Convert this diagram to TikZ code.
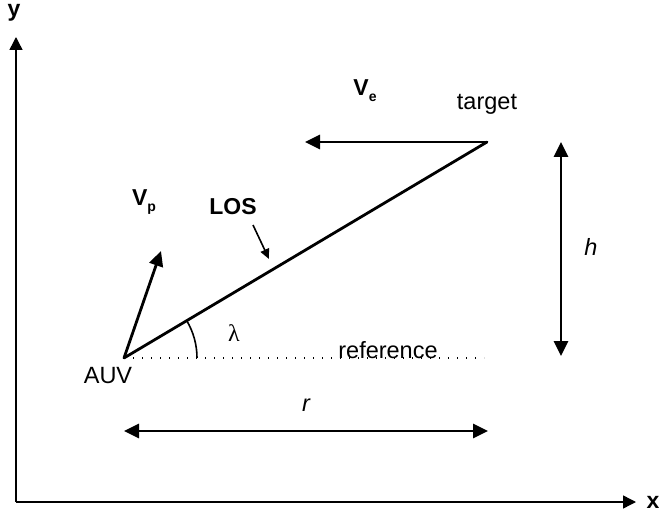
\documentclass[tikz,border=0pt]{standalone}
\usepackage{fontspec}
\setmainfont{Liberation Sans}
\newfontfamily\serifgreek{Liberation Serif}
\usetikzlibrary{arrows.meta}
\newcommand\mysub[1]{\raisebox{-6pt}{\fontsize{14}{16}\selectfont\bfseries #1}}
\begin{document}
\begin{tikzpicture}[x=1pt,y=-1pt,
  lbl/.style={inner sep=0pt,font=\fontsize{23.5}{27}\selectfont},
  ilbl/.style={inner sep=0pt,font=\fontsize{23.5}{27}\selectfont\itshape},
  blbl/.style={inner sep=0pt,font=\fontsize{23}{27}\selectfont\bfseries},
  vlbl/.style={inner sep=0pt,font=\fontsize{23}{27}\selectfont\bfseries},
  axis/.style={line width=1.4pt,-{Triangle[length=13pt,width=13pt]}},
  vec/.style={line width=2.8pt,-{Triangle[length=15pt,width=14pt]}},
  dbl/.style={line width=2.8pt,{Triangle[length=15pt,width=14pt]}-{Triangle[length=15pt,width=14pt]}},
  pointer/.style={line width=1.6pt,-{Triangle[length=10pt,width=9pt]}}]
\useasboundingbox (0,0) rectangle (659,513);
% axes
\coordinate (origin) at (16,502);
\coordinate (ytip) at (16,37);
\coordinate (xtip) at (636,502);
\draw[axis] (origin) -- (ytip);
\draw[axis] (origin) -- (xtip);
\node[blbl] (ylab) at (14,13) {y};
\node[blbl] (xlab) at (653,502) {x};
% key points
\coordinate (auv) at (124,358);
\coordinate (target) at (487,142);
\coordinate (vetip) at (305,142);
\coordinate (vptip) at (161,251);
\coordinate (refend) at (484,358);
% reference line
\draw[line width=1.2pt,dash pattern=on 1.2pt off 7.8pt] (auv) -- (refend);
% LOS line
\draw[line width=2.8pt,line cap=round] (auv) -- (target);
% velocity vectors
\draw[vec] (target) -- (vetip);
\draw[vec] (auv) -- (vptip);
% angle arc
\draw[line width=1.6pt] ([shift={(73,0)}]auv) arc[start angle=0,end angle=-30.9,radius=73];
% labels
\node[lbl] (auvlab) at (108,376) {AUV};
\node[lbl] (targetlab) at (487,104) {target};
\node[vlbl] (velab) at (365,91) {V\mysub{e}};
\node[vlbl] (vplab) at (144,202) {V\mysub{p}};
\node[blbl] (loslab) at (233,207) {LOS};
\coordinate (lospt) at (269,259);
\draw[pointer] (253,225) -- (lospt);
\node[font=\fontsize{24}{28}\selectfont\serifgreek,inner sep=0pt] (lam) at (234,333) {λ};
\node[lbl] (reflab) at (388,350) {reference};
% h
\coordinate (htop) at (561,142);
\coordinate (hbot) at (561,356);
\draw[dbl] (htop) -- (hbot);
\node[ilbl] (hlab) at (591,247) {h};
% r
\coordinate (rl) at (124,431);
\coordinate (rr) at (488,431);
\draw[dbl] (rl) -- (rr);
\node[ilbl] (rlab) at (306,405) {r};
\end{tikzpicture}
\end{document}
